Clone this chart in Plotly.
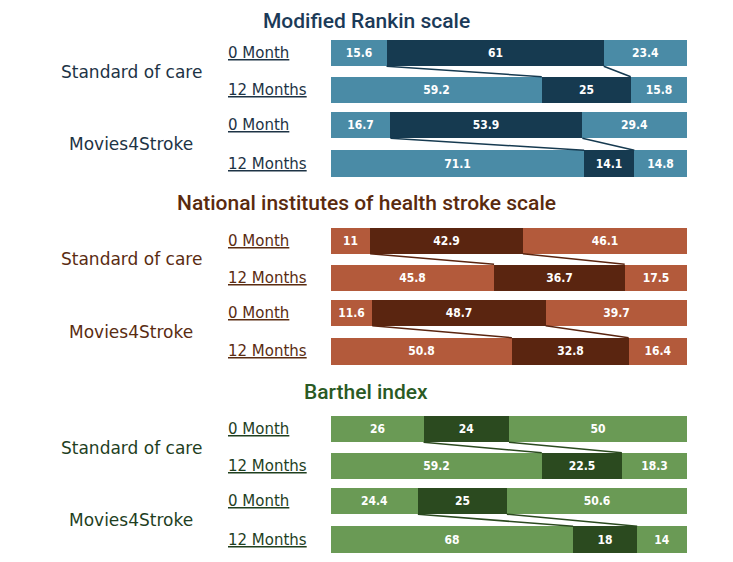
import plotly.graph_objects as go

# section titles and row labels
sections = ["Modified Rankin scale", "National institutes of health stroke scale", "Barthel index"]
groups = ["Standard of care", "Movies4Stroke"]
times = ["0 Month", "12 Months", "0 Month", "12 Months"]

# values per row: SOC 0m, SOC 12m, M4S 0m, M4S 12m
mrs_low = [15.6, 59.2, 16.7, 71.1]
mrs_mid = [61, 25, 53.9, 14.1]
mrs_high = [23.4, 15.8, 29.4, 14.8]

nihss_low = [11, 45.8, 11.6, 50.8]
nihss_mid = [42.9, 36.7, 48.7, 32.8]
nihss_high = [46.1, 17.5, 39.7, 16.4]

barthel_low = [26, 59.2, 24.4, 68]
barthel_mid = [24, 22.5, 25, 18]
barthel_high = [50, 18.3, 50.6, 14]

data = [
    (mrs_low, mrs_mid, mrs_high),
    (nihss_low, nihss_mid, nihss_high),
    (barthel_low, barthel_mid, barthel_high),
]

# styling
light = ["#4a8ba6", "#b35a3b", "#6a9a55"]
dark = ["#163a50", "#5a2510", "#2b4a1f"]
text_col = ["#1d3345", "#5a2c12", "#1f3f1f"]
title_col = ["#1b3a58", "#5a2a0e", "#2a5a24"]

W, H = 733, 562
OFF = 8  # page body margin
row_pos = [0, 37, 72, 110.5]
bar_h = 26.5
sec_top = [53, 240.5, 429]      # pixel of first bar centre in each section
title_y = [17, 203, 392]
title_x = 366
x0_px, x1_px = 331 - OFF, 687 - OFF

label_font = "DejaVu Sans"
bar_font = "Liberation Sans Narrow, DejaVu Sans Condensed, Arial Narrow"

fig = go.Figure()
annotations = []

for k in range(3):
    low, mid, high = data[k]
    xa = "x" if k == 0 else "x%d" % (k + 1)
    ya = "y" if k == 0 else "y%d" % (k + 1)
    for vals, col in [(low, light[k]), (mid, dark[k]), (high, light[k])]:
        fig.add_trace(go.Bar(
            x=vals, y=row_pos, orientation="h", width=bar_h,
            marker=dict(color=col, line=dict(width=0)),
            text=[str(v) for v in vals], texttemplate="%{text}",
            textposition="inside", insidetextanchor="middle", textangle=0,
            constraintext="none",
            textfont=dict(family=bar_font, size=12, color="white", weight="bold"),
            xaxis=xa, yaxis=ya, showlegend=False, hoverinfo="skip",
        ))
    # connectors between the dark segments of 0 month and 12 months
    for g in range(2):
        a, b = 2 * g, 2 * g + 1
        left = [low[a], low[b]]
        right = [low[a] + mid[a], low[b] + mid[b]]
        ys = [row_pos[a] + bar_h / 2, row_pos[b] - bar_h / 2]
        for xs in (left, right):
            fig.add_trace(go.Scatter(
                x=xs, y=ys, mode="lines",
                line=dict(color=dark[k], width=1.5),
                xaxis=xa, yaxis=ya, showlegend=False, hoverinfo="skip",
            ))

    top = sec_top[k] - OFF - 20
    bot = sec_top[k] - OFF + 131
    ax = dict(domain=[x0_px / W, x1_px / W], range=[0, 100], visible=False,
              fixedrange=True)
    ay = dict(domain=[1 - bot / H, 1 - top / H], range=[131, -20],
              visible=False, fixedrange=True)
    if k == 0:
        fig.update_layout(xaxis=ax, yaxis=ay)
    else:
        ax["anchor"] = ya
        ay["anchor"] = xa
        fig.update_layout(**{"xaxis%d" % (k + 1): ax, "yaxis%d" % (k + 1): ay})

    for i, t in enumerate(times):
        annotations.append(dict(
            text="<u>%s</u>" % t, xref="paper", yref=ya,
            x=(226 - OFF) / W, y=row_pos[i], xanchor="left", yanchor="middle",
            showarrow=False,
            font=dict(family=label_font, size=15, color=text_col[k]),
        ))
    for g, name in enumerate(groups):
        yc = (row_pos[2 * g] + row_pos[2 * g + 1]) / 2
        annotations.append(dict(
            text=name, xref="paper", yref=ya,
            x=(131 - OFF) / W, y=yc, xanchor="center", yanchor="middle",
            showarrow=False,
            font=dict(family=label_font, size=17, color=text_col[k]),
        ))
    # first title would poke above the page top, so pin it to the top edge
    if k == 0:
        ty, tanchor = 1.0, "top"
    else:
        ty, tanchor = 1 - (title_y[k] - OFF) / H, "middle"
    annotations.append(dict(
        text=sections[k], xref="paper", yref="paper",
        x=(title_x - OFF) / W, y=ty,
        xanchor="center", yanchor=tanchor, showarrow=False, borderpad=0,
        font=dict(family="Roboto", size=21, color=title_col[k], weight=500),
    ))

fig.update_layout(
    width=W, height=H,
    margin=dict(l=0, r=0, t=0, b=0),
    barmode="stack", bargap=0,
    paper_bgcolor="white", plot_bgcolor="white",
    annotations=annotations,
)

fig.write_html("out.html")
